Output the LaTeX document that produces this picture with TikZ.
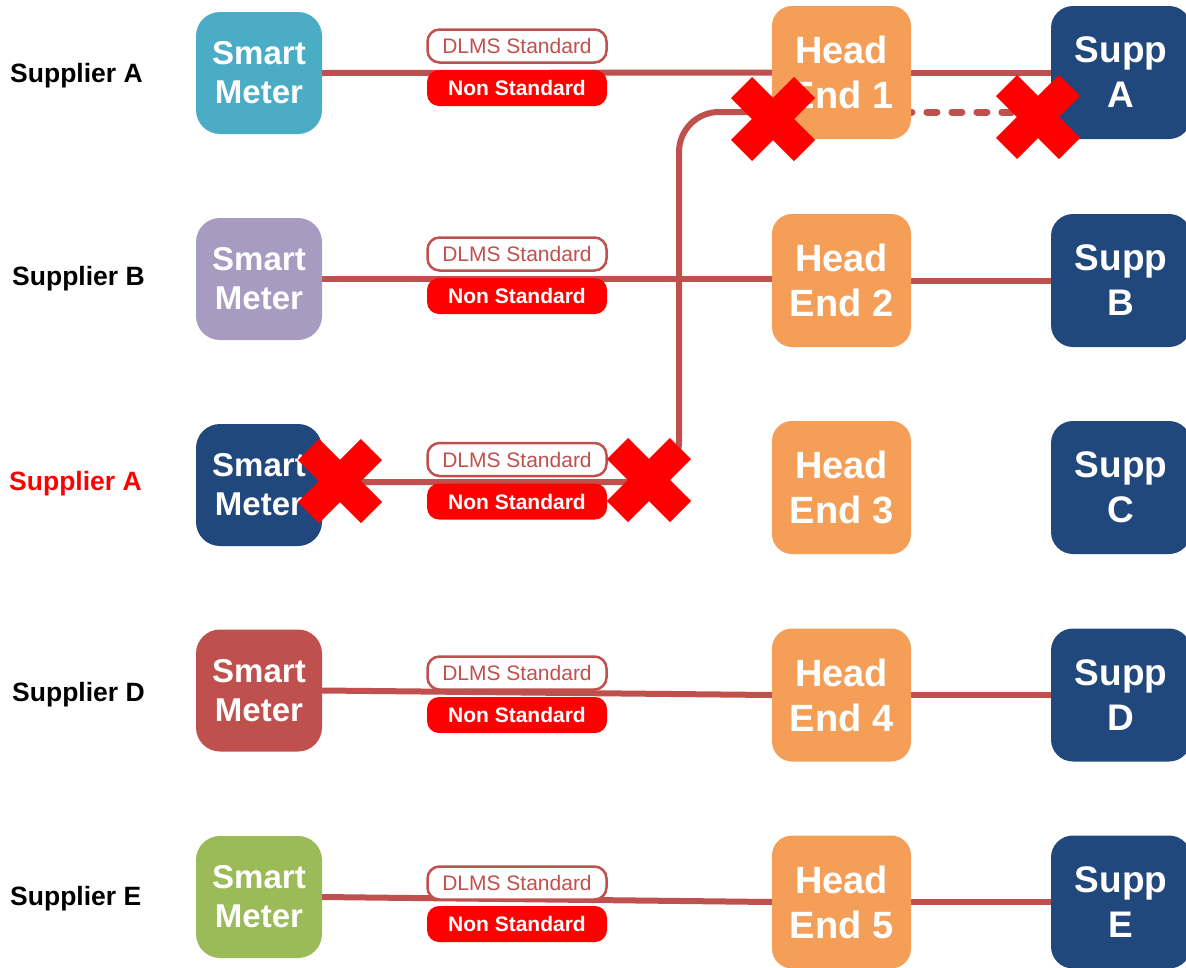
\documentclass[tikz,border=0pt]{standalone}
\usepackage{fontspec}
\setmainfont{Liberation Sans}
\usetikzlibrary{shapes.misc}
\definecolor{lnk}{HTML}{C0504D}
\definecolor{smA}{HTML}{4BACC6}
\definecolor{smB}{HTML}{A89BC1}
\definecolor{smC}{HTML}{21487D}
\definecolor{smD}{HTML}{C0504D}
\definecolor{smE}{HTML}{9BBB59}
\definecolor{heor}{HTML}{F59E58}
\definecolor{sblue}{HTML}{21487D}
\definecolor{xred}{HTML}{FF0000}
\pgfdeclarelayer{paper}
\pgfdeclarelayer{bg}
\pgfsetlayers{paper,bg,main}
\tikzset{
  smbox/.style={rounded corners=24pt, minimum width=126pt, minimum height=122pt, inner sep=0pt,
    text=white, align=center, font=\fontsize{33}{39}\selectfont\bfseries},
  hebox/.style={rounded corners=20pt, fill=heor, minimum width=139pt, minimum height=133pt, inner sep=0pt,
    text=white, align=center, font=\fontsize{38}{45}\selectfont\bfseries},
  suppbox/.style={rounded corners=22pt, fill=sblue, minimum width=140pt, minimum height=133pt, inner sep=0pt,
    text=white, align=center, font=\fontsize{37}{45}\selectfont\bfseries},
  dlms/.style={draw=lnk, line width=2.5pt, fill=white, rounded corners=12pt, minimum width=179pt,
    minimum height=33pt, inner sep=0pt, text=lnk, font=\fontsize{21}{25}\selectfont},
  nonstd/.style={fill=xred, rounded corners=12pt, minimum width=180pt, minimum height=36pt, inner sep=0pt,
    text=white, font=\fontsize{21}{25}\selectfont\bfseries},
  rowlbl/.style={anchor=base west, inner sep=0pt, font=\fontsize{26.5}{31}\selectfont\bfseries},
  link/.style={draw=lnk, line width=6pt},
  dotlink/.style={draw=lnk, line width=7pt, line cap=round, dash pattern=on 10pt off 15pt, dash phase=9.3pt},
  crossx/.style={cross out, draw=xred, line width=30pt, minimum width=63pt, minimum height=63pt, inner sep=0pt, outer sep=0pt}
}
\begin{document}
\begin{tikzpicture}[x=1pt, y=-1pt]
\useasboundingbox (0,0) rectangle (1186,967);
\clip (0,0) rectangle (1186,967);
\begin{pgfonlayer}{paper}
\fill[white] (0,0) rectangle (1186,967);
\end{pgfonlayer}

% smart meters
\node[smbox, fill=smA] (sm1) at (259,73) {Smart\\Meter};
\node[smbox, fill=smB] (sm2) at (259,279) {Smart\\Meter};
\node[smbox, fill=smC] (sm3) at (259,485) {Smart\\Meter};
\node[smbox, fill=smD] (sm4) at (259,690.5) {Smart\\Meter};
\node[smbox, fill=smE] (sm5) at (259,897) {Smart\\Meter};

% head ends
\node[hebox] (he1) at (841.5,72.5) {Head\\End 1};
\node[hebox] (he2) at (841.5,280.5) {Head\\End 2};
\node[hebox] (he3) at (841.5,487.5) {Head\\End 3};
\node[hebox] (he4) at (841.5,695) {Head\\End 4};
\node[hebox] (he5) at (841.5,902) {Head\\End 5};

% suppliers
\node[suppbox] (sp1) at (1121,72.5) {Supp\\A};
\node[suppbox] (sp2) at (1121,280.5) {Supp\\B};
\node[suppbox] (sp3) at (1121,487.5) {Supp\\C};
\node[suppbox] (sp4) at (1121,695) {Supp\\D};
\node[suppbox] (sp5) at (1121,902) {Supp\\E};

% connectors
\coordinate (c3) at (679,482);
\coordinate (c1) at (679,112);
\begin{pgfonlayer}{bg}
\draw[link] (sm1.east) -- (he1.west);
\draw[link] (he1.east) -- (sp1.west);
\draw[link] (sm2.east |- 0,279) -- (he2.west |- 0,279);
\draw[link] (he2.east) -- (sp2.west);
\draw[link, rounded corners=40pt] (sm3.east |- c3) -- (c3) -- (c1) -- (he1.west |- c1);
\draw[dotlink] (he1.east |- c1) -- (sp1.west |- c1);
\draw[link] (sm4.east) -- (he4.west);
\draw[link] (he4.east) -- (sp4.west);
\draw[link] (sm5.east) -- (he5.west);
\draw[link] (he5.east) -- (sp5.west);
\end{pgfonlayer}

% protocol labels
\node[dlms] (d1) at (517,46) {DLMS Standard};
\node[nonstd] (n1) at (517,88) {Non Standard};
\node[dlms] (d2) at (517,254) {DLMS Standard};
\node[nonstd] (n2) at (517,296) {Non Standard};
\node[dlms] (d3) at (517,459.5) {DLMS Standard};
\node[nonstd] (n3) at (517,501.5) {Non Standard};
\node[dlms] (d4) at (517,673) {DLMS Standard};
\node[nonstd] (n4) at (517,715) {Non Standard};
\node[dlms] (d5) at (517,883) {DLMS Standard};
\node[nonstd] (n5) at (517,924) {Non Standard};

% crosses
\node[crossx] (x1) at (340,481) {};
\node[crossx] (x2) at (649,480) {};
\node[crossx] (x3) at (773,119) {};
\node[crossx] (x4) at (1038,117) {};

% row labels
\node[rowlbl] (l1) at (10,82) {Supplier A};
\node[rowlbl] (l2) at (12,285.5) {Supplier B};
\node[rowlbl, text=xred] (l3) at (9,490.5) {Supplier A};
\node[rowlbl] (l4) at (12,701.5) {Supplier D};
\node[rowlbl] (l5) at (10,905.5) {Supplier E};
\end{tikzpicture}
\end{document}
